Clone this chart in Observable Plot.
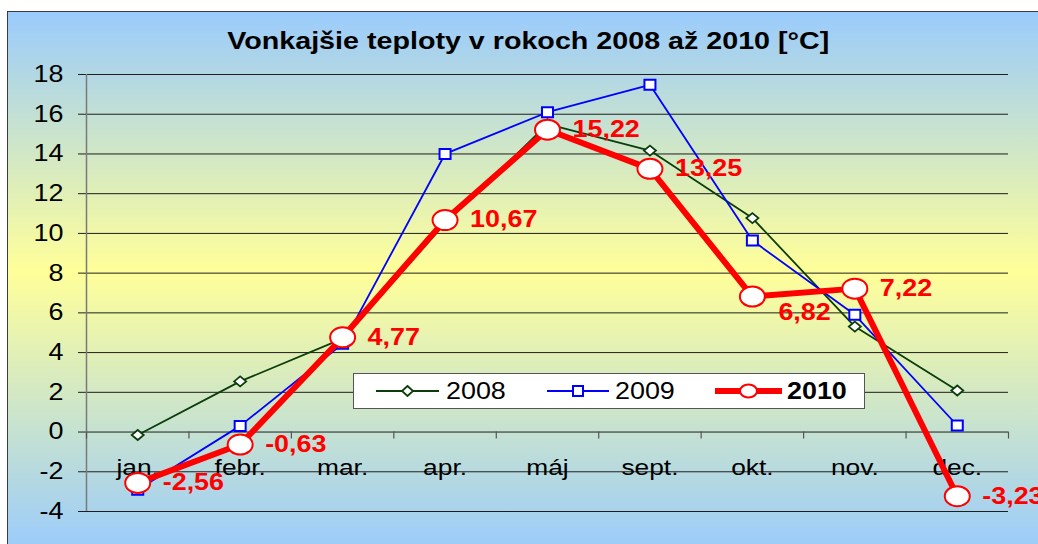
<!DOCTYPE html>
<html><head><meta charset="utf-8">
<script src="https://cdn.jsdelivr.net/npm/d3@7"></script>
<script src="https://cdn.jsdelivr.net/npm/@observablehq/plot@0.6"></script>
<style>
html,body{margin:0;padding:0;background:#fff;width:1038px;height:544px;overflow:hidden;font-family:"Liberation Sans",Arial,sans-serif;}
#bg{position:absolute;left:7px;top:11px;width:1040px;height:540px;border-top:1.5px solid #3c3c3c;border-left:1.5px solid #3c3c3c;background:linear-gradient(to bottom,#9ACBFC 0%,#FFFF99 48%,#9ACBFC 100%);}
#chart{position:absolute;left:0;top:0;}
#title{position:absolute;left:0;width:1056px;top:28.6px;text-align:center;font-weight:bold;font-size:24.5px;line-height:24.5px;white-space:nowrap;color:#000;}
#title span{display:inline-block;transform:scaleX(1.17);}
#legend{position:absolute;left:353px;top:373px;width:510px;height:34px;background:#fff;border:1px solid #555;}
</style></head><body>
<div id="bg"></div><div id="chart"></div><div id="title"><span></span></div><div id="legend"></div>
<script>
const titleText = "Vonkajšie teploty v rokoch 2008 až 2010 [°C]";
const categories = ["jan.", "febr.", "mar.", "apr.", "máj", "sept.", "okt.", "nov.", "dec."];
const seriesNames = ["2008", "2009", "2010"];
const t2008 = [-0.15, 2.55, 4.7, 10.5, 15.5, 14.17, 10.77, 5.31, 2.09];
const t2009 = [-2.9, 0.31, 4.44, 14.0, 16.1, 17.48, 9.64, 5.9, 0.33];
const t2010 = [-2.56, -0.63, 4.77, 10.67, 15.22, 13.25, 6.82, 7.22, -3.23];
const yTicks = [-4, -2, 0, 2, 4, 6, 8, 10, 12, 14, 16, 18];

const C2008 = "#0B3D0B", C2009 = "#0000FF", C2010 = "#FF0000";
const SX = 1.17;

document.querySelector("#title span").textContent = titleText;

const rows = categories.map((c, i) => ({i, cat: c, v2008: t2008[i], v2009: t2009[i], v2010: t2010[i]}));
const bounds = d3.range(categories.length + 1).map(k => k - 0.5);
const fmt = v => v.toFixed(2).replace(".", ",");

const ellipse = (rx, ry) => ({draw(ctx) {
  const k = 0.5523;
  ctx.moveTo(rx, 0);
  ctx.bezierCurveTo(rx, ry * k, rx * k, ry, 0, ry);
  ctx.bezierCurveTo(-rx * k, ry, -rx, ry * k, -rx, 0);
  ctx.bezierCurveTo(-rx, -ry * k, -rx * k, -ry, 0, -ry);
  ctx.bezierCurveTo(rx * k, -ry, rx, -ry * k, rx, 0);
  ctx.closePath();
}});
const rectSym = (w, h) => ({draw(ctx) {
  ctx.moveTo(-w / 2, -h / 2); ctx.lineTo(w / 2, -h / 2); ctx.lineTo(w / 2, h / 2); ctx.lineTo(-w / 2, h / 2); ctx.closePath();
}});
const diamondSym = (w, h) => ({draw(ctx) {
  ctx.moveTo(0, -h / 2); ctx.lineTo(w / 2, 0); ctx.lineTo(0, h / 2); ctx.lineTo(-w / 2, 0); ctx.closePath();
}});

const chart = Plot.plot({
  width: 1038, height: 544,
  marginTop: 74, marginBottom: 33, marginLeft: 86, marginRight: 30,
  x: {type: "linear", domain: [-0.5, 8.5], axis: null},
  y: {domain: [-4, 18], axis: null, label: null},
  style: {background: "transparent", color: "#000", fontFamily: "'Liberation Sans', Arial, sans-serif", overflow: "visible"},
  marks: [
    Plot.ruleY(yTicks, {stroke: "#1e1e1e", strokeWidth: 1}),
    Plot.axisY({ticks: yTicks, tickSize: 8, tickPadding: 15, tickFormat: d => String(d), fontSize: 23, label: null, stroke: "#1e1e1e"}),
    Plot.ruleX([-0.5], {stroke: "#7a7a7a", strokeWidth: 1.5}),
    Plot.ruleX(bounds, {y1: 0, y2: 0, insetBottom: -7, stroke: "#555", strokeWidth: 1.2}),
    Plot.text(rows, {x: "i", y: d => 0, text: "cat", dy: 36, fontSize: 22.5, fill: "#000"}),
    Plot.line(rows, {x: "i", y: "v2008", stroke: C2008, strokeWidth: 1.8}),
    Plot.dot(rows, {x: "i", y: "v2008", symbol: diamondSym(12, 10), fill: "#fff", stroke: C2008, strokeWidth: 1.8}),
    Plot.line(rows, {x: "i", y: "v2009", stroke: C2009, strokeWidth: 1.8}),
    Plot.dot(rows, {x: "i", y: "v2009", symbol: rectSym(11, 10), fill: "#fff", stroke: C2009, strokeWidth: 2}),
    Plot.line(rows, {x: "i", y: "v2010", stroke: C2010, strokeWidth: 6}),
    Plot.dot(rows, {x: "i", y: "v2010", symbol: ellipse(12.5, 10), fill: "#fff", stroke: C2010, strokeWidth: 2}),
    Plot.text(rows.filter(d => d.cat !== "okt."), {x: "i", y: "v2010", text: d => fmt(d.v2010), dx: 25, textAnchor: "start", fill: C2010, fontWeight: "bold", fontSize: 23}),
    Plot.text(rows.filter(d => d.cat === "okt."), {x: "i", y: "v2010", text: d => fmt(d.v2010), dx: 26, dy: 16, textAnchor: "start", fill: C2010, fontWeight: "bold", fontSize: 23})
  ]
});

// horizontally stretch all text around its anchor (reference text is wide)
chart.querySelectorAll("text").forEach(t => {
  const tr = t.getAttribute("transform");
  if (tr) t.setAttribute("transform", tr + ` scale(${SX},1)`);
  else if (t.hasAttribute("x") || t.hasAttribute("y")) {
    const x = +t.getAttribute("x") || 0, y = +t.getAttribute("y") || 0;
    t.removeAttribute("x"); t.removeAttribute("y");
    t.setAttribute("transform", `translate(${x},${y}) scale(${SX},1)`);
  }
});
document.getElementById("chart").appendChild(chart);

// legend
const lg = d3.select("#legend").append("svg").attr("width", 510).attr("height", 34)
  .style("position", "absolute").style("left", 0).style("top", 0)
  .style("font-family", "'Liberation Sans', Arial, sans-serif");
const items = [
  {name: seriesNames[0], color: C2008, w: 1.8, x0: 22, x1: 85, sym: diamondSym(11, 10), sw: 1.8, tx: 92, bold: false},
  {name: seriesNames[1], color: C2009, w: 1.8, x0: 193, x1: 255, sym: rectSym(10, 10), sw: 2, tx: 261, bold: false},
  {name: seriesNames[2], color: C2010, w: 6, x0: 361, x1: 428, sym: ellipse(8.5, 6.5), sw: 2, tx: 433, bold: true}
];
const yc = 17;
items.forEach(it => {
  lg.append("line").attr("x1", it.x0).attr("x2", it.x1).attr("y1", yc).attr("y2", yc)
    .attr("stroke", it.color).attr("stroke-width", it.w);
  lg.append("path").attr("d", d3.symbol().type(it.sym)()).attr("transform", `translate(${(it.x0 + it.x1) / 2},${yc})`)
    .attr("fill", "#fff").attr("stroke", it.color).attr("stroke-width", it.sw);
  lg.append("text").attr("transform", `translate(${it.tx},${yc}) scale(${SX},1)`).attr("dy", "0.36em")
    .attr("font-size", 23).attr("font-weight", it.bold ? "bold" : "normal").attr("fill", "#000").text(it.name);
});
</script>
</body></html>
